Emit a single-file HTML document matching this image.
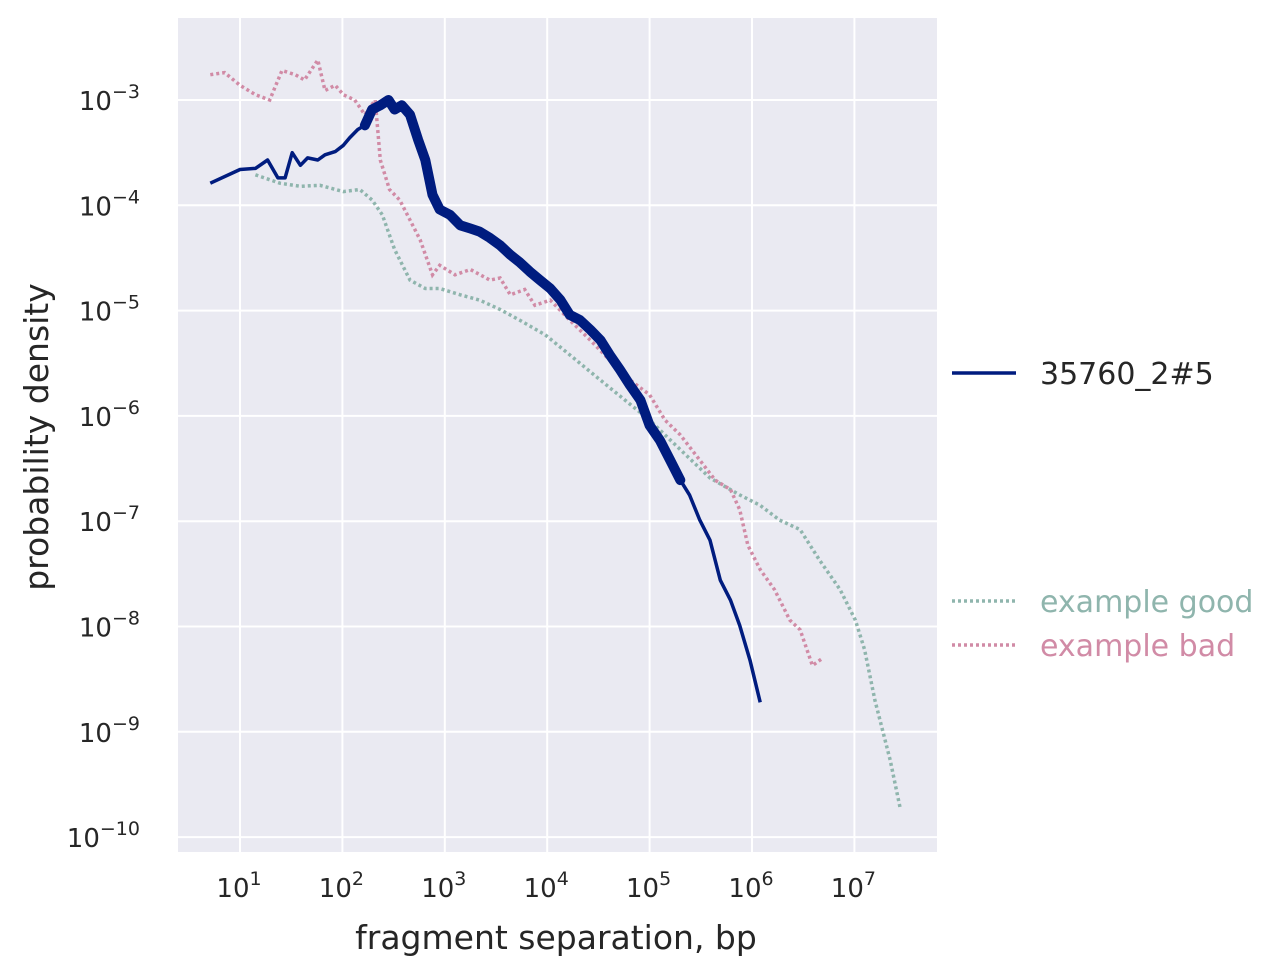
<!DOCTYPE html>
<html><head><meta charset="utf-8"><style>
body{margin:0;background:#fff;}
svg{display:block;font-family:"DejaVu Sans","Liberation Sans",sans-serif;}
</style></head><body>
<svg id="chart" width="1283" height="976" viewBox="0 0 1283 976" xmlns="http://www.w3.org/2000/svg">
<rect x="178" y="18" width="759" height="834" fill="#eaeaf2"/>
<g id="grid"></g>
<g id="ticks"></g>
<g id="series"></g>
<text x="556" y="949" font-size="33" fill="#262626" text-anchor="middle">fragment separation, bp</text>
<text transform="translate(48,437) rotate(-90)" font-size="33" fill="#262626" text-anchor="middle">probability density</text>
<g>
<line x1="952" y1="373" x2="1016" y2="373" stroke="#001c7f" stroke-width="3.5"/>
<text x="1040" y="384" font-size="30" fill="#262626">35760_2#5</text>
<line x1="952" y1="601" x2="1016" y2="601" stroke="#8fb5ad" stroke-width="3.5" stroke-dasharray="3,3"/>
<text x="1040" y="612" font-size="30" fill="#8fb5ad">example good</text>
<line x1="952" y1="645" x2="1016" y2="645" stroke="#d18ba6" stroke-width="3.5" stroke-dasharray="3,3"/>
<text x="1040" y="656" font-size="30" fill="#d18ba6">example bad</text>
</g>
</svg>
<script>
const xTicks=[1,2,3,4,5,6,7];
const yTicks=[-3,-4,-5,-6,-7,-8,-9,-10];
const sampleLogX=[0.71,1.00,1.15,1.27,1.37,1.44,1.51,1.59,1.66,1.76,1.83,1.93,2.01,2.07,2.15,2.22,2.29,2.37,2.45,2.51,2.58,2.66,2.74,2.81,2.88,2.95,3.05,3.15,3.25,3.34,3.44,3.54,3.64,3.73,3.83,3.93,4.03,4.13,4.22,4.32,4.42,4.52,4.61,4.71,4.81,4.91,5.00,5.10,5.20,5.30,5.39,5.49,5.59,5.69,5.79,5.88,5.98,6.08];
const sampleLogY=[-3.79,-3.66,-3.65,-3.57,-3.74,-3.74,-3.50,-3.62,-3.55,-3.57,-3.52,-3.49,-3.43,-3.36,-3.28,-3.24,-3.09,-3.05,-3.00,-3.09,-3.05,-3.14,-3.38,-3.57,-3.90,-4.04,-4.09,-4.19,-4.22,-4.25,-4.31,-4.38,-4.47,-4.54,-4.63,-4.71,-4.79,-4.90,-5.04,-5.09,-5.18,-5.28,-5.42,-5.56,-5.71,-5.85,-6.09,-6.23,-6.42,-6.61,-6.75,-6.99,-7.18,-7.56,-7.75,-7.99,-8.32,-8.72];
const goodLogX=[1.15,1.39,1.59,1.78,2.01,2.17,2.29,2.39,2.51,2.66,2.81,2.95,3.15,3.34,3.54,3.73,3.98,4.22,4.52,4.76,5.00,5.30,5.59,5.88,6.08,6.27,6.47,6.66,6.86,7.01,7.10,7.20,7.35,7.45];
const goodLogY=[-3.71,-3.79,-3.82,-3.81,-3.87,-3.85,-3.95,-4.09,-4.42,-4.71,-4.79,-4.79,-4.85,-4.90,-4.99,-5.09,-5.23,-5.42,-5.66,-5.85,-6.04,-6.32,-6.59,-6.75,-6.85,-6.99,-7.08,-7.37,-7.65,-7.94,-8.22,-8.70,-9.27,-9.74];
const badLogX=[0.71,0.85,1.00,1.15,1.29,1.41,1.54,1.63,1.76,1.83,1.93,2.01,2.12,2.22,2.32,2.37,2.46,2.56,2.66,2.76,2.88,2.95,3.10,3.25,3.44,3.54,3.64,3.78,3.88,4.03,4.22,4.42,4.61,4.81,5.00,5.15,5.30,5.49,5.64,5.79,5.88,5.96,6.08,6.22,6.37,6.47,6.59,6.69];
const badLogY=[-2.76,-2.74,-2.86,-2.95,-3.00,-2.72,-2.76,-2.81,-2.62,-2.91,-2.86,-2.95,-3.00,-3.14,-3.00,-3.57,-3.85,-3.95,-4.14,-4.33,-4.66,-4.57,-4.66,-4.61,-4.71,-4.69,-4.85,-4.80,-4.95,-4.90,-5.09,-5.28,-5.47,-5.66,-5.80,-6.04,-6.18,-6.42,-6.61,-6.70,-6.89,-7.23,-7.46,-7.65,-7.94,-8.03,-8.37,-8.30];
const NS='http://www.w3.org/2000/svg';
function sx(l){return 240+(l-1)*102.4;}
function sy(l){return 100+(-3-l)*105.3;}
function mk(t,a,p){const e=document.createElementNS(NS,t);for(const k in a)e.setAttribute(k,a[k]);p.appendChild(e);return e;}
const grid=document.getElementById('grid'),ticks=document.getElementById('ticks'),series=document.getElementById('series');
xTicks.forEach(v=>{
 const l=mk('line',{x1:sx(v),x2:sx(v),y1:18,y2:852,stroke:'#fff','stroke-width':2},grid);
 
 
 const t=mk('text',{x:sx(v)-1,y:897,'font-size':26,fill:'#262626','text-anchor':'middle'},ticks);
 
 
 t.innerHTML='10<tspan dy="-12" font-size="19">'+v+'</tspan>';
});
yTicks.forEach(v=>{
 const l=mk('line',{x1:178,x2:937,y1:sy(v),y2:sy(v),stroke:'#fff','stroke-width':2},grid);
 
 
 const t=mk('text',{x:140,y:sy(v)+10,'font-size':26,fill:'#262626','text-anchor':'end'},ticks);
 
 
 t.innerHTML='10<tspan dy="-12" font-size="19">\u2212'+(-v)+'</tspan>';
});
function path(xs,ys){return xs.map((x,i)=>(i?'L':'M')+sx(x).toFixed(1)+','+sy(ys[i]).toFixed(1)).join('');}
const g=mk('path',{d:path(goodLogX,goodLogY),fill:'none',stroke:'#8fb5ad','stroke-width':3.5,'stroke-dasharray':'3,3'},series);


const b=mk('path',{d:path(badLogX,badLogY),fill:'none',stroke:'#d18ba6','stroke-width':3.5,'stroke-dasharray':'3,3'},series);


const nx=[],ny=[];
sampleLogX.forEach((x,i)=>{if(x>=2.2&&x<=5.3){nx.push(x);ny.push(sampleLogY[i]);}});
const band=mk('path',{d:path(nx,ny),fill:'none',stroke:'#001c7f','stroke-width':10,'stroke-linejoin':'round','stroke-linecap':'round'},series);


const s=mk('path',{d:path(sampleLogX,sampleLogY),fill:'none',stroke:'#001c7f','stroke-width':3.5,'stroke-linejoin':'round'},series);


</script>
</body></html>
